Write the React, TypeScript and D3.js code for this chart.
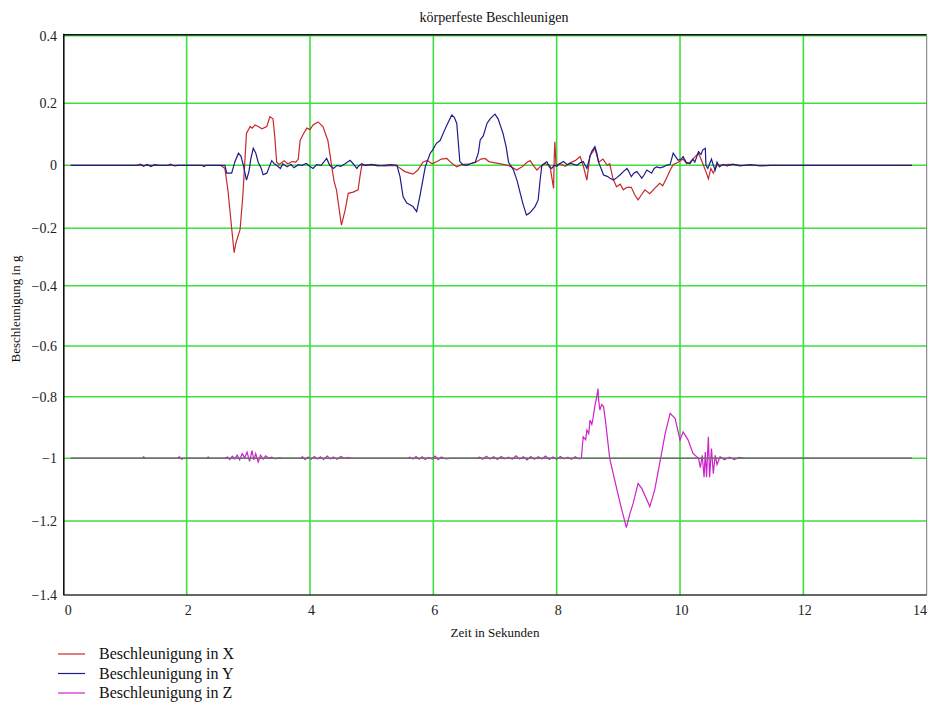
import React from "react";
import * as d3 from "d3";

// ---------- data ----------
const title = "körperfeste Beschleunigen";
const xTitle = "Zeit in Sekunden";
const yTitle = "Beschleunigung in g";
const xTicks = [0, 2, 4, 6, 8, 10, 12, 14];
const yTicks = [0.4, 0.2, 0, -0.2, -0.4, -0.6, -0.8, -1, -1.2, -1.4];
const seriesNames = ["Beschleunigung in X", "Beschleunigung in Y", "Beschleunigung in Z"];

const xT = [0.12, 2.55, 2.62, 2.67, 2.73, 2.77, 2.8, 2.866, 2.91, 2.97, 3.03, 3.06, 3.11, 3.16, 3.22, 3.3, 3.35, 3.4, 3.43, 3.46, 3.5, 3.58, 3.64, 3.71, 3.77, 3.81, 3.84, 3.89, 3.95, 4.0, 4.05, 4.13, 4.21, 4.29, 4.35, 4.39, 4.43, 4.49, 4.51, 4.57, 4.62, 4.7, 4.78, 4.81, 4.84, 5.0, 5.2, 5.4, 5.43, 5.54, 5.67, 5.75, 5.83, 5.9, 5.98, 6.06, 6.13, 6.22, 6.29, 6.38, 6.46, 6.6, 6.69, 6.77, 6.84, 6.9, 7.0, 7.11, 7.21, 7.29, 7.35, 7.44, 7.52, 7.57, 7.62, 7.68, 7.73, 7.81, 7.89, 7.95, 7.96, 7.97, 7.99, 8.05, 8.14, 8.22, 8.3, 8.38, 8.43, 8.49, 8.54, 8.59, 8.62, 8.68, 8.75, 8.82, 8.86, 8.91, 8.97, 9.03, 9.08, 9.14, 9.21, 9.27, 9.32, 9.37, 9.43, 9.51, 9.59, 9.67, 9.72, 9.78, 9.84, 9.89, 9.97, 10.05, 10.11, 10.16, 10.23, 10.3, 10.34, 10.38, 10.42, 10.46, 10.5, 10.54, 10.6, 10.8, 11.0, 13.76];
const xV = [0, 0, -0.01, -0.08, -0.2, -0.285, -0.25, -0.205, -0.1, 0.103, 0.125, 0.12, 0.13, 0.125, 0.118, 0.125, 0.157, 0.15, 0.09, 0.01, 0.003, 0.015, 0.005, 0.012, 0.01, 0.02, 0.08, 0.1, 0.12, 0.115, 0.13, 0.14, 0.125, 0.08, 0, -0.05, -0.079, -0.163, -0.19, -0.142, -0.089, -0.085, -0.078, -0.036, 0, 0.003, -0.002, 0, -0.005, -0.02, -0.028, -0.015, 0.01, 0.016, 0.005, 0.012, 0.02, 0.022, 0.008, -0.005, 0.002, 0.005, 0.01, 0.02, 0.022, 0.012, 0.008, 0.004, 0, -0.008, -0.015, -0.005, 0.01, 0.015, 0, -0.015, -0.005, 0.005, 0, -0.073, 0.02, 0.076, 0, 0.005, -0.003, 0.008, 0.015, 0.028, 0, -0.047, 0.032, 0.045, 0.055, 0.01, 0.02, 0, 0.005, -0.04, -0.068, -0.06, -0.078, -0.07, -0.07, -0.095, -0.11, -0.095, -0.078, -0.09, -0.073, -0.057, -0.065, -0.041, -0.016, 0.003, 0.01, 0.02, 0.005, 0.01, 0.025, 0.039, 0.02, 0, -0.02, -0.043, -0.01, -0.025, 0, 0.003, 0, 0];

const yT = [0.12, 1.2, 1.25, 1.3, 1.36, 1.42, 1.48, 1.55, 1.7, 1.74, 1.8, 1.86, 2.25, 2.28, 2.32, 2.62, 2.65, 2.73, 2.78, 2.84, 2.88, 2.92, 2.97, 3.01, 3.04, 3.08, 3.12, 3.16, 3.21, 3.24, 3.3, 3.34, 3.38, 3.42, 3.46, 3.52, 3.56, 3.63, 3.69, 3.74, 3.81, 3.87, 3.94, 4.0, 4.05, 4.11, 4.18, 4.23, 4.27, 4.32, 4.38, 4.44, 4.5, 4.57, 4.65, 4.7, 4.76, 4.79, 4.84, 4.89, 5.0, 5.1, 5.2, 5.3, 5.41, 5.46, 5.51, 5.57, 5.62, 5.67, 5.73, 5.78, 5.87, 5.95, 5.99, 6.05, 6.11, 6.16, 6.22, 6.3, 6.34, 6.38, 6.43, 6.48, 6.54, 6.6, 6.68, 6.73, 6.76, 6.81, 6.87, 6.92, 7.0, 7.05, 7.13, 7.18, 7.22, 7.3, 7.36, 7.41, 7.45, 7.51, 7.57, 7.65, 7.7, 7.73, 7.76, 7.8, 7.84, 7.88, 7.92, 7.96, 8.0, 8.05, 8.11, 8.17, 8.23, 8.33, 8.38, 8.43, 8.49, 8.54, 8.57, 8.62, 8.65, 8.68, 8.72, 8.76, 8.82, 8.86, 8.92, 8.97, 9.03, 9.08, 9.14, 9.17, 9.21, 9.25, 9.3, 9.34, 9.38, 9.42, 9.46, 9.5, 9.54, 9.58, 9.62, 9.68, 9.73, 9.78, 9.84, 9.89, 9.94, 9.97, 10.02, 10.05, 10.1, 10.16, 10.21, 10.24, 10.3, 10.34, 10.37, 10.41, 10.42, 10.45, 10.49, 10.51, 10.54, 10.57, 10.6, 10.64, 10.7, 10.76, 10.86, 10.97, 11.14, 11.3, 11.46, 13.76];
const yV = [0, 0, 0.004, -0.003, 0.003, -0.004, 0.002, 0, 0, 0.004, -0.002, 0, 0, -0.004, 0, 0, -0.025, -0.025, 0.01, 0.039, 0.03, 0, -0.047, -0.02, 0.02, 0.055, 0.04, 0.01, -0.01, -0.03, -0.025, -0.005, 0.015, 0.005, 0, -0.01, 0.005, -0.005, 0.003, -0.008, 0.002, 0, 0.006, -0.004, -0.01, 0.002, 0, 0.012, 0.022, 0, -0.01, 0, -0.003, 0.005, 0.016, 0.005, -0.01, -0.002, 0.005, 0, 0.002, -0.002, 0, 0.002, 0, -0.036, -0.1, -0.12, -0.125, -0.131, -0.147, -0.1, -0.004, 0.039, 0.05, 0.071, 0.08, 0.103, 0.13, 0.162, 0.155, 0.135, 0.012, 0.002, 0, 0.005, 0.01, 0.04, 0.082, 0.095, 0.135, 0.15, 0.165, 0.15, 0.103, 0.06, 0.01, -0.015, -0.05, -0.089, -0.12, -0.158, -0.15, -0.131, -0.11, -0.05, 0, 0.006, 0.012, -0.005, -0.01, 0, -0.003, 0.005, 0.012, 0.002, 0.006, 0, 0.008, 0.012, -0.01, 0.028, 0.045, 0.06, 0.04, 0.01, -0.01, -0.031, -0.035, -0.04, -0.047, -0.04, -0.03, -0.02, -0.01, -0.02, -0.036, -0.025, -0.02, -0.03, -0.041, -0.03, -0.015, -0.02, -0.025, -0.01, -0.005, -0.008, -0.005, 0, 0.003, 0.039, 0.025, 0.016, 0.02, 0.028, 0.01, 0.005, 0.02, 0.01, 0.044, 0.035, 0.05, 0.055, 0, -0.01, 0.01, 0.02, 0, -0.015, 0.01, -0.005, 0.003, -0.002, 0.004, -0.002, 0.002, -0.002, 0, 0];

const zT = [0.12, 1.28, 1.3, 1.33, 1.85, 1.88, 1.92, 1.95, 2.32, 2.35, 2.38, 2.62, 2.66, 2.7, 2.74, 2.78, 2.82, 2.86, 2.9, 2.94, 2.98, 3.02, 3.06, 3.09, 3.12, 3.16, 3.2, 3.24, 3.28, 3.33, 3.38, 3.44, 3.5, 3.55, 3.84, 3.88, 3.92, 3.97, 4.02, 4.07, 4.12, 4.17, 4.22, 4.28, 4.33, 4.38, 4.44, 4.5, 4.56, 4.62, 4.66, 5.58, 5.62, 5.67, 5.72, 5.77, 5.82, 5.87, 5.92, 5.98, 6.03, 6.08, 6.13, 6.2, 6.27, 6.7, 6.75, 6.8, 6.86, 6.92, 6.98, 7.04, 7.1, 7.16, 7.22, 7.28, 7.34, 7.4, 7.46, 7.52, 7.58, 7.64, 7.7, 7.76, 7.82, 7.88, 7.94, 8.0, 8.06, 8.12, 8.18, 8.24, 8.3, 8.36, 8.4, 8.43, 8.47, 8.49, 8.52, 8.54, 8.57, 8.59, 8.62, 8.65, 8.67, 8.68, 8.7, 8.73, 8.76, 8.79, 8.86, 8.94, 9.03, 9.13, 9.19, 9.24, 9.32, 9.38, 9.51, 9.59, 9.68, 9.76, 9.84, 9.92, 10.0, 10.05, 10.13, 10.21, 10.3, 10.33, 10.36, 10.39, 10.41, 10.43, 10.46, 10.48, 10.51, 10.54, 10.57, 10.6, 10.65, 10.72, 10.8, 10.88, 10.96, 11.05, 13.76];
const zV = [-1, -1, -0.995, -1, -1, -0.995, -1.003, -1, -1, -0.996, -1, -1, -0.996, -1.004, -0.993, -1.002, -0.99, -1.005, -0.985, -0.998, -0.98, -1.01, -0.975, -1.005, -0.985, -1.012, -0.99, -1.003, -0.992, -1, -0.996, -1.002, -0.998, -1, -1, -0.995, -1.004, -0.996, -1.003, -0.994, -1.002, -0.995, -1.004, -0.993, -1.002, -0.996, -1.003, -0.994, -1, -0.997, -1, -1, -0.996, -1.002, -0.994, -1.003, -0.995, -1.004, -0.997, -1.002, -0.993, -1.004, -0.996, -1.002, -1, -1, -0.996, -1.003, -0.993, -1.002, -0.995, -1.004, -0.994, -1.002, -0.996, -1.003, -0.992, -1.002, -0.995, -1.005, -0.994, -1.003, -0.995, -1.002, -0.993, -1.004, -0.996, -1.003, -0.994, -1.002, -0.996, -1.003, -0.995, -1.002, -1, -0.93, -0.94, -0.908, -0.92, -0.876, -0.89, -0.87, -0.83, -0.8, -0.768, -0.81, -0.843, -0.825, -0.832, -0.876, -1, -1.069, -1.144, -1.218, -1.175, -1.144, -1.08, -1.096, -1.154, -1.101, -1.006, -0.919, -0.854, -0.87, -0.941, -0.914, -0.94, -0.984, -1, -1.03, -0.99, -1.06, -0.98, -1.06, -0.93, -1.06, -0.968, -1.049, -0.99, -1.02, -0.995, -1.005, -0.996, -1.004, -0.997, -1, -1];

const refT = [0.12, 13.76];
const refV = [-1, -1];

// ---------- layout ----------
const W = 928;
const H = 707;
const FONT = "'Liberation Serif', 'Times New Roman', serif";
const colors = ["#c8282c", "#1c1c8c", "#cc22cc"];
const gridColor = "#3ede3e";

export default function App() {
  const x = d3.scaleLinear().domain([0, 14]).range([63.3, 926.7]);
  // the reference's grid rows are not evenly spaced; piecewise-linear scale
  const y = d3
    .scaleLinear()
    .domain(yTicks)
    .range([35.7, 103.3, 165.3, 228.3, 285.7, 346, 396.7, 458.3, 521, 595]);

  const line = d3
    .line<[number, number]>()
    .x((d) => x(d[0]))
    .y((d) => y(d[1]));

  const zip = (t: number[], v: number[]) => t.map((tt, i) => [tt, v[i]] as [number, number]);

  const fmt = (v: number) => (v === 0 ? "0" : String(v).replace("-", "\u2212"));

  const x0 = x(0), x1 = x(14), yTop = y(0.4), yBot = y(-1.4);

  return (
    <svg
      width={W}
      height={H}
      style={{ position: "absolute", left: 0, top: 0, background: "#fff" }}
      fontFamily={FONT}
    >
      <rect x={0} y={0} width={W} height={H} fill="#fff" />
      <text x={494} y={22} textAnchor="middle" fontSize={14} fill="#111">{title}</text>

      {/* grid */}
      {xTicks.filter((t) => t > 0 && t < 14).map((t) => (
        <line key={"gx" + t} x1={x(t)} x2={x(t)} y1={yTop} y2={yBot} stroke={gridColor} strokeWidth={1.6} />
      ))}
      {yTicks.filter((t) => t > -1.4).map((t) => (
        <line key={"gy" + t} x1={x0} x2={x1} y1={y(t)} y2={y(t)} stroke={gridColor} strokeWidth={1.6} />
      ))}

      {/* frame */}
      <line x1={x0} x2={x1} y1={yTop - 1} y2={yTop - 1} stroke="#111" strokeWidth={1.6} />
      <line x1={x1} x2={x1} y1={yTop} y2={yBot} stroke="#777" strokeWidth={1} />
      <line x1={x0} x2={x1} y1={yBot} y2={yBot} stroke="#333" strokeWidth={1.4} />
      <line x1={x0 + 0.5} x2={x0 + 0.5} y1={yTop - 2} y2={yBot} stroke="#111" strokeWidth={1.6} />

      {/* series */}
      <path d={line(zip(zT, zV)) || ""} fill="none" stroke={colors[2]} strokeWidth={1.2} />
      <path d={line(zip(refT, refV)) || ""} fill="none" stroke="#707070" strokeWidth={1.4} />
      <path d={line(zip(xT, xV)) || ""} fill="none" stroke={colors[0]} strokeWidth={1.2} />
      <path d={line(zip(yT, yV)) || ""} fill="none" stroke={colors[1]} strokeWidth={1.2} />

      {/* y tick labels */}
      {yTicks.map((t) => (
        <text key={"ly" + t} x={57} y={y(t)} dy="0.35em" textAnchor="end" fontSize={14} fill="#222">
          {fmt(t)}
        </text>
      ))}
      {/* x tick labels */}
      {xTicks.map((t) => (
        <text
          key={"lx" + t}
          x={t === 14 ? 927 : x(t) + (t === 0 ? 5 : 1.5)}
          y={615}
          textAnchor={t === 14 ? "end" : "middle"}
          fontSize={14}
          fill="#222"
        >
          {fmt(t)}
        </text>
      ))}

      <text x={495} y={637} textAnchor="middle" fontSize={13} fill="#111">{xTitle}</text>
      <text transform="translate(20,309) rotate(-90)" textAnchor="middle" fontSize={13} fill="#111">{yTitle}</text>

      {/* legend */}
      {seriesNames.map((n, i) => {
        const ly = 654 + i * 19.5;
        return (
          <g key={n}>
            <line x1={58} x2={85} y1={ly} y2={ly} stroke={colors[i]} strokeWidth={1.2} />
            <text x={99} y={ly + 5} fontSize={16} fill="#111">{n}</text>
          </g>
        );
      })}
    </svg>
  );
}
